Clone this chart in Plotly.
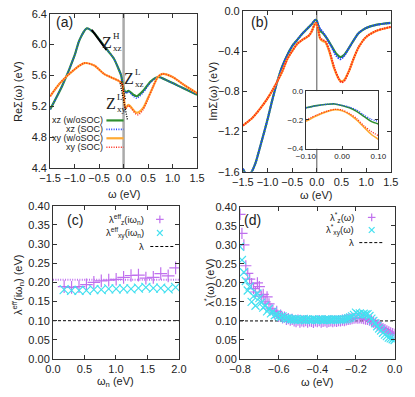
import plotly.graph_objects as go

W, H = 415, 397
def px(x): return x / W
def py(y): return 1 - y / H

# ---------------- panel (a): Re Sigma ----------------
re_w_xz = [-1.5, -1.25, -1.0, -0.9, -0.75, -0.6, -0.5, -0.32, -0.2, -0.1, -0.05, 0.0, 0.05, 0.1, 0.2, 0.27, 0.4, 0.55, 0.7, 0.9, 1.2, 1.5]
re_xz_nosoc = [5.16, 5.47, 5.86, 6.06, 6.21, 6.15, 6.07, 5.92, 5.82, 5.68, 5.60, 5.43, 5.38, 5.40, 5.35, 5.33, 5.40, 5.52, 5.58, 5.53, 5.44, 5.35]
re_xz_soc   = [5.16, 5.47, 5.86, 6.06, 6.21, 6.15, 6.07, 5.92, 5.82, 5.68, 5.60, 5.43, 5.37, 5.39, 5.33, 5.305, 5.38, 5.51, 5.58, 5.53, 5.44, 5.35]
re_w_xy = [-1.5, -1.3, -1.0, -0.8, -0.6, -0.4, -0.2, -0.1, -0.03, 0.0, 0.04, 0.1, 0.15, 0.25, 0.3, 0.4, 0.5, 0.6, 0.7, 0.8, 1.0, 1.25, 1.5]
re_xy_nosoc = [5.33, 5.50, 5.68, 5.76, 5.73, 5.62, 5.56, 5.53, 5.49, 5.35, 5.18, 5.22, 5.19, 5.12, 5.12, 5.18, 5.31, 5.45, 5.58, 5.62, 5.58, 5.47, 5.37]
re_xy_soc   = [5.33, 5.50, 5.68, 5.76, 5.73, 5.62, 5.56, 5.53, 5.49, 5.35, 5.17, 5.21, 5.18, 5.10, 5.09, 5.16, 5.30, 5.45, 5.58, 5.62, 5.58, 5.47, 5.37]
zH_w, zH_v = [-0.65, -0.35], [6.19, 5.93]
zLxz_w, zLxz_v = [-0.04, 0.04], [5.52, 5.28]
zLxy_w, zLxy_v = [-0.07, 0.08], [5.50, 5.02]

# ---------------- panel (b): Im Sigma ----------------
im_w_xz = [-1.5, -1.42, -1.35, -1.25, -1.15, -1.0, -0.9, -0.8, -0.7, -0.6, -0.5, -0.4, -0.3, -0.2, -0.1, -0.03, 0.0, 0.03, 0.07, 0.12, 0.2, 0.3, 0.4, 0.48, 0.55, 0.65, 0.75, 0.85, 1.0, 1.2, 1.5]
im_xz_nosoc = [-1.57, -1.63, -1.62, -1.52, -1.35, -1.08, -0.88, -0.70, -0.55, -0.44, -0.35, -0.29, -0.23, -0.18, -0.13, -0.09, -0.10, -0.15, -0.20, -0.22, -0.27, -0.35, -0.43, -0.46, -0.44, -0.37, -0.29, -0.22, -0.17, -0.14, -0.12]
im_xz_soc   = [-1.57, -1.63, -1.62, -1.52, -1.35, -1.08, -0.88, -0.70, -0.55, -0.44, -0.35, -0.29, -0.23, -0.18, -0.13, -0.09, -0.10, -0.14, -0.18, -0.21, -0.27, -0.36, -0.45, -0.48, -0.45, -0.37, -0.29, -0.22, -0.17, -0.14, -0.12]
im_w_xy = [-1.5, -1.3, -1.1, -1.0, -0.9, -0.8, -0.7, -0.6, -0.5, -0.4, -0.3, -0.2, -0.15, -0.1, -0.05, -0.02, 0.0, 0.03, 0.07, 0.12, 0.17, 0.25, 0.35, 0.45, 0.5, 0.55, 0.65, 0.75, 0.85, 1.0, 1.2, 1.5]
im_xy_nosoc = [-1.14, -1.06, -0.94, -0.87, -0.79, -0.70, -0.60, -0.48, -0.40, -0.33, -0.29, -0.26, -0.24, -0.20, -0.14, -0.125, -0.14, -0.20, -0.28, -0.30, -0.31, -0.40, -0.57, -0.68, -0.70, -0.69, -0.60, -0.47, -0.36, -0.26, -0.20, -0.16]
im_xy_soc   = [-1.14, -1.06, -0.94, -0.87, -0.79, -0.70, -0.60, -0.48, -0.40, -0.33, -0.29, -0.26, -0.24, -0.20, -0.14, -0.12, -0.13, -0.19, -0.27, -0.29, -0.30, -0.39, -0.56, -0.68, -0.71, -0.70, -0.60, -0.47, -0.36, -0.26, -0.20, -0.16]

# inset of (b)
in_w = [-0.1, -0.07, -0.04, -0.02, 0.0, 0.02, 0.04, 0.06, 0.08, 0.1]
in_xz_nosoc = [-0.115, -0.100, -0.090, -0.088, -0.100, -0.115, -0.140, -0.175, -0.210, -0.228]
in_xz_soc   = [-0.115, -0.100, -0.090, -0.088, -0.098, -0.110, -0.130, -0.165, -0.195, -0.210]
in_xy_nosoc = [-0.210, -0.170, -0.140, -0.128, -0.135, -0.160, -0.200, -0.250, -0.300, -0.335]
in_xy_soc   = [-0.200, -0.165, -0.137, -0.126, -0.130, -0.155, -0.190, -0.240, -0.280, -0.310]

# ---------------- panel (c): lambda_eff(i w_n) ----------------
wn = [0.177, 0.295, 0.413, 0.531, 0.649, 0.767, 0.885, 1.003, 1.121, 1.239, 1.357, 1.475, 1.593, 1.711, 1.829, 1.947]
lz_eff  = [0.189, 0.187, 0.189, 0.194, 0.200, 0.204, 0.206, 0.208, 0.213, 0.218, 0.219, 0.211, 0.213, 0.223, 0.217, 0.238]
lxy_eff = [0.181, 0.179, 0.179, 0.179, 0.181, 0.181, 0.183, 0.183, 0.183, 0.183, 0.185, 0.187, 0.185, 0.185, 0.183, 0.187]
lz_eff_avg = 0.207
lam = 0.10
c_w_range = [0.0, 2.0]

# ---------------- panel (d): lambda*(w) ----------------
d_w = [-0.80, -0.79, -0.78, -0.77, -0.76, -0.75, -0.74, -0.73, -0.72, -0.71,
       -0.70, -0.69, -0.68, -0.67, -0.66, -0.65, -0.64, -0.63, -0.62, -0.61,
       -0.60, -0.59, -0.58, -0.57, -0.56, -0.55, -0.54, -0.53, -0.52, -0.51,
       -0.50, -0.49, -0.48, -0.47, -0.46, -0.45, -0.44, -0.43, -0.42, -0.41,
       -0.40, -0.39, -0.38, -0.37, -0.36, -0.35, -0.34, -0.33, -0.32, -0.31,
       -0.30, -0.29, -0.28, -0.27, -0.26, -0.25, -0.24, -0.23, -0.22, -0.21,
       -0.20, -0.19, -0.18, -0.17, -0.16, -0.15, -0.14, -0.13, -0.12, -0.11,
       -0.10, -0.09, -0.08, -0.07, -0.06, -0.05, -0.04, -0.03, -0.02, -0.01, 0.00]
lz_star = [0.380, 0.330, 0.300, 0.245, 0.225, 0.210, 0.198, 0.185, 0.176, 0.200,
           0.190, 0.165, 0.170, 0.150, 0.163, 0.145, 0.132, 0.128, 0.120, 0.125,
           0.112, 0.115, 0.108, 0.110, 0.104, 0.106, 0.102, 0.104, 0.100, 0.098,
           0.102, 0.097, 0.100, 0.098, 0.101, 0.097, 0.100, 0.099, 0.096, 0.100,
           0.098, 0.101, 0.097, 0.099, 0.100, 0.097, 0.099, 0.100, 0.098, 0.100,
           0.099, 0.101, 0.100, 0.102, 0.101, 0.103, 0.104, 0.105, 0.106, 0.107,
           0.108, 0.107, 0.108, 0.107, 0.106, 0.105, 0.104, 0.102, 0.100, 0.097,
           0.094, 0.090, 0.087, 0.083, 0.080, 0.077, 0.074, 0.071, 0.069, 0.067, 0.065]
lxy_star = [0.295, 0.260, 0.228, 0.205, 0.180, 0.190, 0.150, 0.165, 0.140, 0.172,
            0.160, 0.148, 0.135, 0.140, 0.125, 0.132, 0.120, 0.125, 0.115, 0.118,
            0.113, 0.110, 0.112, 0.108, 0.106, 0.107, 0.104, 0.105, 0.103, 0.104,
            0.102, 0.104, 0.103, 0.105, 0.102, 0.104, 0.103, 0.102, 0.104, 0.103,
            0.102, 0.104, 0.103, 0.102, 0.104, 0.103, 0.104, 0.102, 0.103, 0.104,
            0.103, 0.104, 0.103, 0.104, 0.104, 0.105, 0.107, 0.109, 0.112, 0.116,
            0.122, 0.118, 0.120, 0.116, 0.119, 0.117, 0.118, 0.113, 0.106, 0.100,
            0.094, 0.086, 0.080, 0.075, 0.069, 0.064, 0.060, 0.056, 0.054, 0.052, 0.050]
d_w_range = [-0.8, 0.0]

# ---------------- styles ----------------
GREEN, BLUE, ORANGE, RED = "#2f8f2f", "#2244ff", "#ffaa33", "#ff2a1a"
PURPLE, CYAN = "#c070ee", "#44e0f0"
TF = "Liberation Sans, Arial, sans-serif"
SERIF = "Liberation Serif, Times New Roman, serif"
DOT = "1px,1.4px"
DENSE = "1.5px,1px"
DASH = "3px,2px"

fig = go.Figure()

def line(x, y, color, dash, width, xa, ya, shape="spline"):
    fig.add_trace(go.Scatter(x=x, y=y, mode="lines", xaxis=xa, yaxis=ya,
                             line=dict(color=color, dash=dash, width=width, shape=shape, smoothing=0.8),
                             showlegend=False, hoverinfo="skip"))

# (a)
line(re_w_xz, re_xz_nosoc, GREEN, "solid", 2.2, "x", "y")
line(re_w_xz, re_xz_soc, BLUE, DOT, 1.6, "x", "y")
line(re_w_xy, re_xy_nosoc, ORANGE, "solid", 2.2, "x", "y")
line(re_w_xy, re_xy_soc, RED, DOT, 1.6, "x", "y")
line(zH_w, zH_v, "black", "solid", 2, "x", "y", "linear")
line(zLxz_w, zLxz_v, "black", DOT, 1.4, "x", "y", "linear")
line(zLxy_w, zLxy_v, "black", DOT, 1.4, "x", "y", "linear")
# (b)
line(im_w_xz, im_xz_nosoc, GREEN, "solid", 2.2, "x2", "y2")
line(im_w_xz, im_xz_soc, BLUE, DENSE, 2.0, "x2", "y2")
line(im_w_xy, im_xy_nosoc, ORANGE, "solid", 2.2, "x2", "y2")
line(im_w_xy, im_xy_soc, RED, DENSE, 2.0, "x2", "y2")
# inset
line(in_w, in_xz_nosoc, GREEN, "solid", 1.6, "x5", "y5")
line(in_w, in_xz_soc, BLUE, DOT, 1.3, "x5", "y5")
line(in_w, in_xy_nosoc, ORANGE, "solid", 1.6, "x5", "y5")
line(in_w, in_xy_soc, RED, DOT, 1.3, "x5", "y5")
# (c)
line(c_w_range, [lz_eff_avg] * 2, PURPLE, DOT, 2, "x3", "y3", "linear")
line(c_w_range, [lam] * 2, "black", DASH, 1, "x3", "y3", "linear")
fig.add_trace(go.Scatter(x=wn, y=lz_eff, mode="markers", xaxis="x3", yaxis="y3",
                         marker=dict(symbol="cross-thin", size=9, line=dict(color=PURPLE, width=1.2)),
                         showlegend=False, hoverinfo="skip"))
fig.add_trace(go.Scatter(x=wn, y=lxy_eff, mode="markers", xaxis="x3", yaxis="y3",
                         marker=dict(symbol="x-thin", size=9, line=dict(color=CYAN, width=1.2)),
                         showlegend=False, hoverinfo="skip"))
# (d)
line(d_w_range, [lam] * 2, "black", DASH, 1, "x4", "y4", "linear")
fig.add_trace(go.Scatter(x=d_w, y=lz_star, mode="markers", xaxis="x4", yaxis="y4",
                         marker=dict(symbol="cross-thin", size=8, line=dict(color=PURPLE, width=1.2)),
                         showlegend=False, hoverinfo="skip"))
fig.add_trace(go.Scatter(x=d_w, y=lxy_star, mode="markers", xaxis="x4", yaxis="y4",
                         marker=dict(symbol="x-thin", size=8, line=dict(color=CYAN, width=1.2)),
                         showlegend=False, hoverinfo="skip"))

def ax(domain, rng, dtick, fmt, anchor, fs=11, ticklen=4):
    return dict(domain=domain, range=rng, dtick=dtick, tick0=rng[0], tickformat=fmt,
                anchor=anchor, showline=True, mirror="ticks", ticks="inside",
                ticklen=ticklen, linecolor="#333", linewidth=1, tickcolor="#333",
                tickfont=dict(family=TF, size=fs, color="#222"),
                showgrid=False, zeroline=False, fixedrange=True)

dom_a_x = [px(41), px(195)];  dom_a_y = [py(167), py(8)]
dom_b_x = [px(243), px(398)]; dom_b_y = [py(171), py(5)]
dom_c_x = [px(44), px(176)];  dom_c_y = [py(364), py(206)]
dom_d_x = [px(240), px(402)]; dom_d_y = [py(364), py(207)]
dom_i_x = [px(309), px(385)]; dom_i_y = [py(147), py(88)]

fig.update_layout(
    width=W, height=H, autosize=False,
    margin=dict(l=0, r=0, t=0, b=0),
    paper_bgcolor="white", plot_bgcolor="white",
    xaxis=ax(dom_a_x, [-1.5, 1.5], 0.5, ".1f", "y"),
    yaxis=ax(dom_a_y, [4.4, 6.4], 0.4, ".1f", "x"),
    xaxis2=ax(dom_b_x, [-1.5, 1.5], 0.5, ".1f", "y2"),
    yaxis2=ax(dom_b_y, [-1.6, 0.0], 0.4, ".1f", "x2"),
    xaxis3=ax(dom_c_x, [0, 2.0], 0.5, ".1f", "y3"),
    yaxis3=ax(dom_c_y, [0, 0.4], 0.05, ".2f", "x3"),
    xaxis4=ax(dom_d_x, [-0.8, 0.0], 0.2, ".1f", "y4"),
    yaxis4=ax(dom_d_y, [0, 0.4], 0.05, ".2f", "x4"),
    xaxis5=ax(dom_i_x, [-0.1, 0.1], 0.1, ".2f", "y5", fs=8, ticklen=3),
    yaxis5=ax(dom_i_y, [-0.4, 0.0], 0.2, ".1f", "x5", fs=8, ticklen=3),
)

shapes = []
shapes.append(dict(type="line", xref="x", yref="y domain", x0=0, x1=0, y0=0, y1=1,
                   line=dict(color="#aaaaaa", width=2.5), layer="below"))
shapes.append(dict(type="line", xref="x2", yref="y2 domain", x0=0, x1=0, y0=0, y1=1,
                   line=dict(color="#555555", width=1), layer="below"))
shapes.append(dict(type="rect", xref="x5 domain", yref="y5 domain", x0=0, x1=1, y0=0, y1=1,
                   fillcolor="white", line=dict(width=0), layer="below"))
shapes.append(dict(type="line", xref="x5", yref="y5 domain", x0=0, x1=0, y0=0, y1=1,
                   line=dict(color="#888888", width=1), layer="below"))

def pline(x0, y0, x1, y1, color, width, dash="solid"):
    shapes.append(dict(type="line", xref="paper", yref="paper", x0=px(x0), y0=py(y0),
                       x1=px(x1), y1=py(y1), line=dict(color=color, width=width, dash=dash)))

annotations = []
def txt(x, y, s, size=10, anchor="center", family=TF, color="#222", angle=0):
    annotations.append(dict(xref="paper", yref="paper", x=px(x), y=py(y), text=s,
                            showarrow=False, xanchor=anchor, yanchor="middle", borderpad=0,
                            font=dict(family=family, size=size, color=color), textangle=angle))

# legend (a)
leg_a = [("xz (w/oSOC)", GREEN, "solid", 2.2), ("xz (SOC)", BLUE, DOT, 1.6),
         ("xy (w/oSOC)", ORANGE, "solid", 2.2), ("xy (SOC)", RED, DOT, 1.6)]
for i, (lab, col, dsh, wd) in enumerate(leg_a):
    yy = 118 + 9.2 * i
    txt(97, yy, lab, size=9, anchor="right")
    pline(100, yy, 118, yy, col, wd, dsh)

# legend (c)
txt(140, 220, "λ<sup>eff</sup><sub>z</sub>(iω<sub>n</sub>)", size=9.5, anchor="right")
txt(140, 234, "λ<sup>eff</sup><sub>xy</sub>(iω<sub>n</sub>)", size=9.5, anchor="right")
txt(140, 248, "λ", size=9.5, anchor="right")
pline(152, 220, 160, 220, PURPLE, 1.2); pline(156, 216, 156, 224, PURPLE, 1.2)
pline(153, 231, 159, 237, CYAN, 1.2); pline(153, 237, 159, 231, CYAN, 1.2)
pline(146, 248, 171, 248, "black", 1, DASH)

# legend (d)
txt(360, 218, "λ<sup>*</sup><sub>z</sub>(ω)", size=9.5, anchor="right")
txt(360, 231, "λ<sup>*</sup><sub>xy</sub>(ω)", size=9.5, anchor="right")
txt(360, 244, "λ", size=9.5, anchor="right")
pline(374, 218, 382, 218, PURPLE, 1.2); pline(378, 214, 378, 222, PURPLE, 1.2)
pline(375, 228, 381, 234, CYAN, 1.2); pline(375, 234, 381, 228, CYAN, 1.2)
pline(365, 244, 390, 244, "black", 1, DASH)

# panel labels
txt(56, 17, "(a)", size=14)
txt(260, 17, "(b)", size=14)
txt(67, 221, "(c)", size=14)
txt(253, 221, "(d)", size=14)

# axis titles
txt(8, 88, "ReΣ(ω) (eV)", size=11, angle=-90)
txt(212, 88, "ImΣ(ω) (eV)", size=11, angle=-90)
txt(8, 288, "λ<sup>eff</sup>(iω<sub>n</sub>) (eV)", size=11, angle=-90)
txt(208, 285, "λ<sup>*</sup>(ω) (eV)", size=11, angle=-90)
txt(118, 194, "ω (eV)", size=11)
txt(320, 195, "ω (eV)", size=11)
txt(110, 388, "ω<sub>n</sub> (eV)", size=11)
txt(321, 388, "ω (eV)", size=11)

# Z labels
def zlab(xz, yz, sup, sub):
    txt(xz, yz, "Z", size=16, family=SERIF)
    txt(xz + 5, yz - 7, sup, size=9, anchor="left", family=SERIF)
    txt(xz + 5, yz + 5, sub, size=9, anchor="left", family=SERIF)
zlab(101, 38, "H", "xz")
zlab(124, 75, "L", "xz")
zlab(105, 101, "L", "xy")

fig.update_layout(shapes=shapes, annotations=annotations)
fig.write_html("out.html", config={"displayModeBar": False},
               post_script="document.body.style.margin='0';document.body.style.padding='0';")
